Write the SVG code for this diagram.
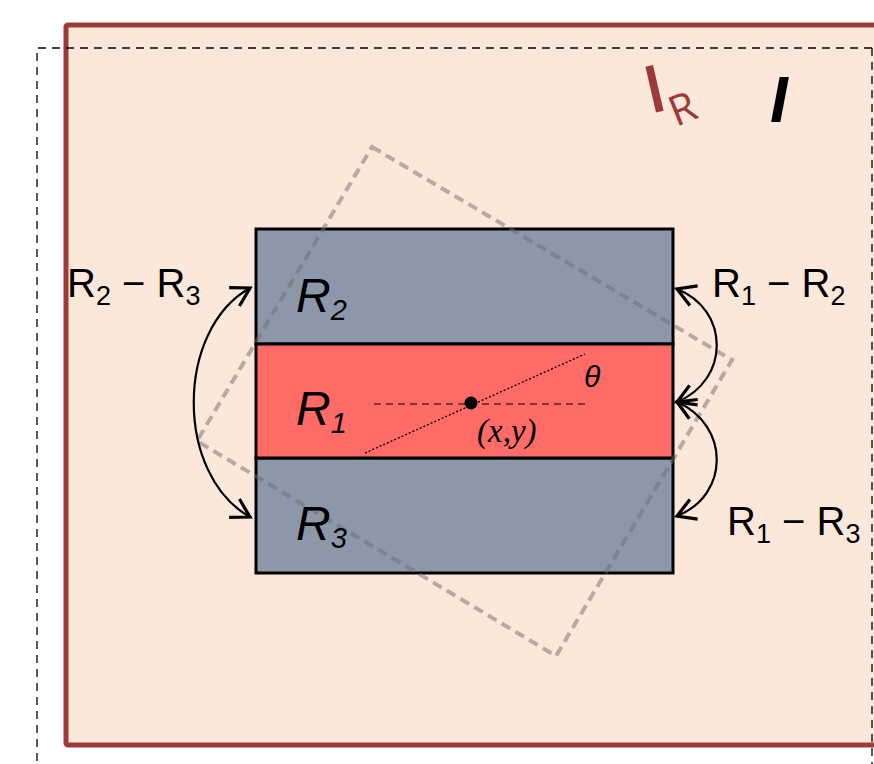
<svg xmlns="http://www.w3.org/2000/svg" width="874" height="764" viewBox="0 0 874 764">
<defs>
<style>
.lbl{font-family:"Liberation Sans",Arial,sans-serif;fill:#000}
.it{font-family:"Liberation Sans",Arial,sans-serif;font-style:italic;fill:#000}
.ser{font-family:"Liberation Serif","Times New Roman",serif;font-style:italic;fill:#000}
.blk{stroke:#000;stroke-width:3}
.arr{fill:none;stroke:#000;stroke-width:2.2}
</style>
<marker id="ah" markerUnits="userSpaceOnUse" markerWidth="26" markerHeight="26" viewBox="-22 -13 26 26" refX="0" refY="0" orient="auto-start-reverse">
<path d="M-18,-10.5 L0,0 L-18,10.5" fill="none" stroke="#000" stroke-width="3.2"/>
</marker>
</defs>
<rect width="874" height="764" fill="#fff"/>
<g id="IR">
<rect x="66" y="25" width="830" height="720" fill="#fce8da" stroke="#9b3a38" stroke-width="5" rx="2"/>
</g>
<g id="I">
<path d="M872,48 H37 V764" fill="none" stroke="#000" stroke-width="1.3" stroke-dasharray="8,6"/>
<path d="M872,48 V764" fill="none" stroke="#000" stroke-width="1.3" stroke-dasharray="8,6"/>
</g>
<g id="R2"><rect x="256" y="229" width="417" height="115" fill="#8c98aa" class="blk"/></g>
<g id="R3"><rect x="256" y="458" width="417" height="115" fill="#8c98aa" class="blk"/></g>
<g id="R1"><rect x="256" y="344" width="417" height="114" fill="#ff6b66" class="blk"/></g>
<g id="rotated">
<polygon points="372,147 732,360 556,656 197,441" fill="none" stroke="#6e6e6e" stroke-opacity="0.5" stroke-width="4" stroke-dasharray="10,6"/>
</g>
<g id="center">
<line x1="374" y1="404" x2="590" y2="404" stroke="#000" stroke-width="1.2" stroke-dasharray="7,5"/>
<line x1="365" y1="453" x2="585" y2="354" stroke="#000" stroke-width="1.3" stroke-dasharray="2,2"/>
<circle cx="471" cy="403" r="6.5" fill="#000"/>
<text x="584" y="387" class="it" font-size="30">θ</text>
<text x="477" y="442" class="ser" font-size="33">(x,y)</text>
</g>
<g id="labels">
<text x="296" y="312" class="it" font-size="48">R<tspan font-size="29" dy="8">2</tspan></text>
<text x="296" y="425" class="it" font-size="48">R<tspan font-size="29" dy="8">1</tspan></text>
<text x="296" y="540" class="it" font-size="48">R<tspan font-size="29" dy="8">3</tspan></text>
<text x="67" y="297" class="lbl" font-size="40">R<tspan font-size="27" dy="8">2</tspan><tspan dy="-8"> − R</tspan><tspan font-size="27" dy="8">3</tspan></text>
<text x="712" y="297" class="lbl" font-size="40">R<tspan font-size="27" dy="8">1</tspan><tspan dy="-8"> − R</tspan><tspan font-size="27" dy="8">2</tspan></text>
<text x="727" y="535" class="lbl" font-size="40">R<tspan font-size="27" dy="8">1</tspan><tspan dy="-8"> − R</tspan><tspan font-size="27" dy="8">3</tspan></text>
<text transform="translate(650,114) rotate(-13)" font-family="'Open Sans','Liberation Sans',sans-serif" font-size="66" font-weight="600" fill="#9b3a38">I</text>
<text transform="translate(676,127) rotate(-22)" font-family="'Open Sans','Liberation Sans',sans-serif" font-size="42" fill="#9b3a38">R</text>
<text x="770" y="122" class="it" font-size="64" font-weight="bold">I</text>
</g>
<g id="connectors">
<path class="arr" d="M250,288 C175,330 175,475 250,517" marker-start="url(#ah)" marker-end="url(#ah)"/>
<path class="arr" d="M677,289 C730,310 730,380 677,402" marker-start="url(#ah)" marker-end="url(#ah)"/>
<path class="arr" d="M677,402 C730,425 730,495 677,516" marker-start="url(#ah)" marker-end="url(#ah)"/>
</g>
</svg>
